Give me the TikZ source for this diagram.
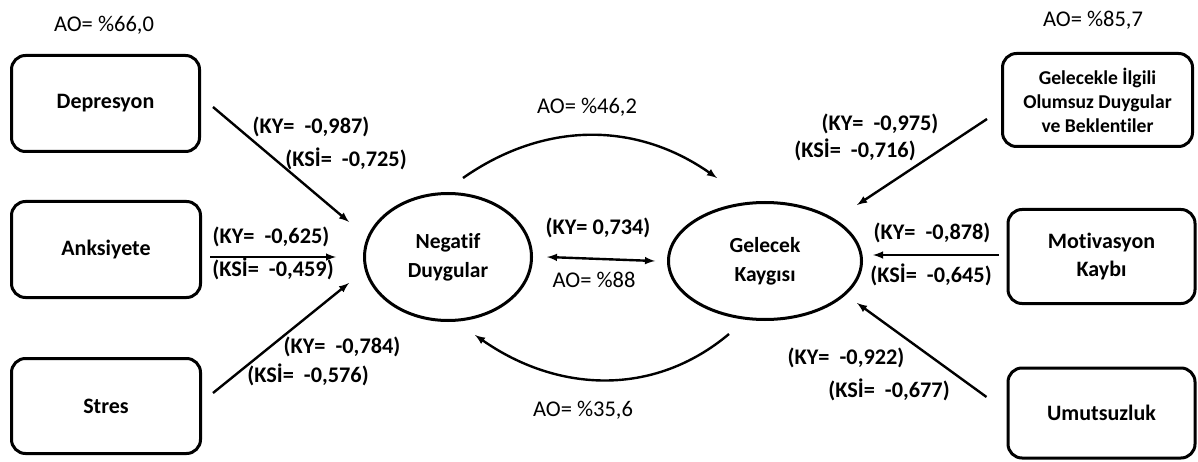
\documentclass[tikz,border=0pt]{standalone}
\usepackage{fontspec}
\setmainfont{Carlito}[Ligatures=NoCommon]
\usepackage{tikz}
\usetikzlibrary{arrows,shapes.geometric}

\tikzset{
  kutu/.style={draw, line width=3pt, rounded corners=14pt, align=center, font=\fontsize{22}{28}\selectfont\bfseries},
  oval/.style={draw, ellipse, line width=3pt, inner sep=0pt, align=center, font=\fontsize{21.5}{29}\selectfont\bfseries},
  yuk/.style={font=\fontsize{22.3}{26}\selectfont\bfseries},
  ao/.style={font=\fontsize{22.5}{26}\selectfont},
  ok/.style={-latex, line width=2.4pt}
}

\begin{document}
\begin{tikzpicture}[x=1pt, y=1pt]
      \useasboundingbox (0, 0) rectangle (1198, 461);
      \node[kutu, minimum width=188, minimum height=96] (dep) at (105.5, 357.5) {Depresyon};
      \node[kutu, minimum width=189, minimum height=96] (anx) at (106, 211.5) {Anksiyete};
      \node[kutu, minimum width=189, minimum height=95] (str) at (106, 55) {Stres};
      \node[kutu, minimum width=190, minimum height=93, font=\fontsize{19.6}{24}\selectfont\bfseries] (gel) at (1097.5, 361) {Gelecekle İlgili\\Olumsuz Duygular\\ve Beklentiler};
      \node[kutu, minimum width=187, minimum height=94] (mot) at (1101.5, 204.5) {Motivasyon\\Kaybı};
      \node[kutu, minimum width=187, minimum height=90] (umu) at (1101.5, 48) {Umutsuzluk};
      \node[oval, minimum width=167, minimum height=127] (neg) at (448, 204) {Negatif\\Duygular};
      \node[oval, minimum width=193, minimum height=117] (fut) at (765, 200) {Gelecek\\Kaygısı};
      \node[ao] (ao1) at (104, 436) {AO= \%66,0};
      \node[ao] (ao2) at (1093, 441) {AO= \%85,7};
      \node[ao] (ao3) at (587, 354) {AO= \%46,2};
      \node[ao] (ao4) at (594, 181) {AO= \%88};
      \node[ao] (ao5) at (583, 51) {AO= \%35,6};
      \node[yuk] (ky1) at (311, 334) {(KY=\ \ -0,987)};
      \node[yuk] (ks1) at (346, 302) {(KSİ=\ \ -0,725)};
      \node[yuk] (ky2) at (271, 224) {(KY=\ \ -0,625)};
      \node[yuk] (ks2) at (273, 192) {(KSİ=\ \ -0,459)};
      \node[yuk] (ky3) at (342, 114) {(KY=\ \ -0,784)};
      \node[yuk] (ks3) at (308, 86) {(KSİ=\ \ -0,576)};
      \node[yuk] (ky4) at (598, 233) {(KY= 0,734)};
      \node[yuk] (ky5) at (880, 337) {(KY=\ \ -0,975)};
      \node[yuk] (ks5) at (855, 311) {(KSİ=\ \ -0,716)};
      \node[yuk] (ky6) at (932, 228) {(KY=\ \ -0,878)};
      \node[yuk] (ks6) at (931, 186) {(KSİ=\ \ -0,645)};
      \node[yuk] (ky7) at (846, 103) {(KY=\ \ -0,922)};
      \node[yuk] (ks7) at (889, 71) {(KSİ=\ \ -0,677)};
      \draw[ok] ([shift={(12, -3.5)}]dep.east) -- ([shift={(-99, 35)}]neg.center);
      \draw[ok] ([shift={(8, -7.5)}]anx.east) -- ([shift={(-112, 0)}]neg.center);
      \draw[ok] ([shift={(11, 13)}]str.east) -- ([shift={(-99, -26)}]neg.center);
      \draw[ok] ([shift={(-14, -19)}]gel.west) -- ([shift={(92, 56)}]fut.center);
      \draw[ok] ([shift={(-8, 1.5)}]mot.west) -- ([shift={(108, 6)}]fut.center);
      \draw[ok] ([shift={(-20, 16)}]umu.west) -- ([shift={(92, -42)}]fut.center);
      \draw[ok] ([shift={(15, 79)}]neg.center) to[out=35, in=145] ([shift={(-48, 83)}]fut.center);
      \draw[ok] ([shift={(-36, -73)}]fut.center) to[out=220, in=-35] ([shift={(27, -78)}]neg.center);
      \draw[latex-latex, line width=2.4pt] ([shift={(99, 0)}]neg.center) -- ([shift={(-110, 0)}]fut.center);
\end{tikzpicture}
\end{document}
